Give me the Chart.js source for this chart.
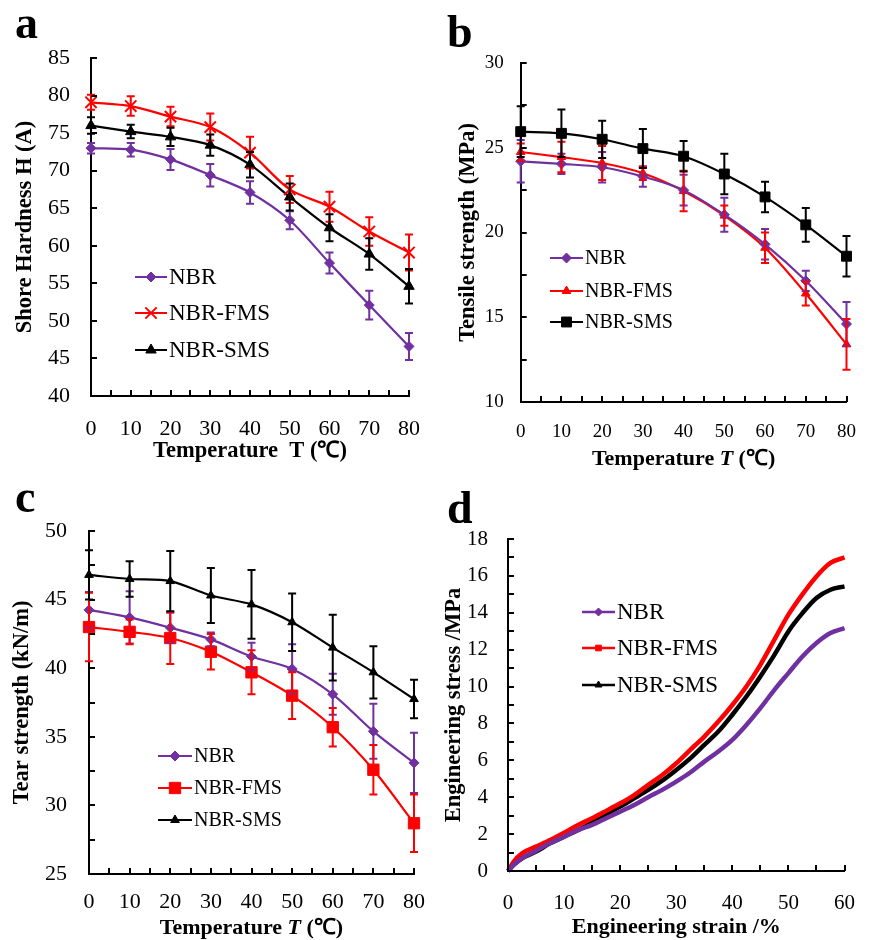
<!DOCTYPE html>
<html><head><meta charset="utf-8">
<script src="https://cdn.jsdelivr.net/npm/chart.js@4/dist/chart.umd.min.js"></script>
<style>
html,body{margin:0;padding:0;background:#fff;}
body{width:875px;height:940px;position:relative;overflow:hidden;}
canvas{position:absolute;}
</style></head>
<body>
<canvas id="ca" width="440" height="470" style="left:0;top:0"></canvas>
<canvas id="cb" width="435" height="470" style="left:440px;top:0"></canvas>
<canvas id="cc" width="440" height="480" style="left:0;top:460px"></canvas>
<canvas id="cd" width="435" height="480" style="left:440px;top:460px"></canvas>
<script>
// ---------- DATA ----------
const seriesNames = ['NBR', 'NBR-FMS', 'NBR-SMS'];
const temps = [0, 10, 20, 30, 40, 50, 60, 70, 80];

// (a) Shore hardness
const hardNBR    = [73.0, 72.8, 71.5, 69.4, 67.1, 63.4, 57.7, 52.1, 46.6];
const hardNBRErr = [0.7, 0.9, 1.4, 1.5, 1.5, 1.2, 1.4, 1.9, 1.8];
const hardFMS    = [79.1, 78.6, 77.2, 75.8, 72.4, 67.5, 65.2, 61.9, 59.1];
const hardFMSErr = [1.0, 1.3, 1.3, 1.8, 2.1, 1.8, 2.0, 1.9, 2.4];
const hardSMS    = [76.0, 75.2, 74.5, 73.4, 70.8, 66.5, 62.4, 58.9, 54.6];
const hardSMSErr = [1.1, 0.9, 1.2, 1.4, 1.7, 1.8, 1.8, 2.1, 2.3];

// (b) Tensile strength
const tenNBR    = [24.2, 24.05, 23.85, 23.3, 22.5, 21.05, 19.3, 17.15, 14.6];
const tenNBRErr = [1.25, 0.6, 0.9, 0.6, 0.9, 1.0, 0.9, 0.6, 1.3];
const tenFMS    = [24.75, 24.45, 24.1, 23.5, 22.45, 21.0, 19.1, 16.4, 13.4];
const tenFMSErr = [0.5, 0.9, 1.0, 0.4, 1.2, 0.6, 0.9, 0.7, 1.5];
const tenSMS    = [25.95, 25.85, 25.5, 24.95, 24.5, 23.45, 22.1, 20.45, 18.6];
const tenSMSErr = [1.5, 1.4, 1.1, 1.15, 0.9, 1.2, 0.9, 1.0, 1.2];

// (c) Tear strength
const tearNBR    = [44.25, 43.7, 42.95, 42.1, 40.85, 39.95, 38.1, 35.4, 33.1];
const tearNBRErr = [1.3, 1.9, 1.1, 0.5, 1.0, 1.8, 1.5, 2.0, 2.2];
const tearFMS    = [43.0, 42.65, 42.2, 41.2, 39.7, 38.0, 35.7, 32.6, 28.7];
const tearFMSErr = [2.5, 0.9, 1.9, 1.3, 1.6, 1.7, 1.4, 1.8, 2.1];
const tearSMS    = [46.8, 46.5, 46.35, 45.3, 44.65, 43.35, 41.5, 39.7, 37.75];
const tearSMSErr = [1.8, 1.3, 2.2, 2.0, 2.5, 2.1, 2.4, 1.9, 1.4];

// (d) Stress-strain
const strain    = [0, 1, 2.5, 5, 7.5, 10, 12.5, 15, 17.5, 20, 22.5, 25, 27.5, 30, 32.5, 35, 37.5, 40, 42.5, 45, 47.5, 50, 52.5, 55, 57.5, 60];
const stressNBR = [0, 0.33, 0.69, 1.1, 1.5, 1.86, 2.22, 2.5, 2.86, 3.22, 3.58, 4.0, 4.4, 4.85, 5.34, 5.93, 6.48, 7.11, 7.92, 8.83, 9.82, 10.73, 11.63, 12.36, 12.9, 13.17];
const stressFMS = [0, 0.5, 0.96, 1.32, 1.68, 2.08, 2.5, 2.86, 3.26, 3.67, 4.12, 4.67, 5.2, 5.84, 6.57, 7.29, 8.1, 9.0, 10.0, 11.18, 12.54, 13.9, 15.0, 15.97, 16.7, 17.0];
const stressSMS = [0, 0.33, 0.69, 1.05, 1.5, 1.86, 2.22, 2.62, 3.08, 3.49, 3.94, 4.4, 4.9, 5.48, 6.11, 6.84, 7.56, 8.47, 9.46, 10.55, 11.72, 12.99, 13.98, 14.8, 15.25, 15.43];

// ---------- STYLE ----------
const SERIF = "'Liberation Serif','Times New Roman',serif";
const PURPLE = '#7030A0', RED = '#FF0000', BLACK = '#000000';

const decor = {
  ca: { letter: {t: 'a', x: 15, y: 38}, xTitle: {parts: [['Temperature  T (\u2103)', false]], y: 451, size: 22.5},
        xMinor: 5, yMinor: 5,
        legend: {x: 135, len: 32, ys: [277, 313, 350], size: 23} },
  cb: { letter: {t: 'b', x: 7, y: 47}, xTitle: {parts: [['Temperature ', false], ['T', true], [' (\u2103)', false]], y: 459, size: 22},
        xMinor: 5, yMinor: 2.5,
        legend: {x: 110, len: 33, ys: [258, 291, 322], size: 20} },
  cc: { letter: {t: 'c', x: 15, y: 52}, xTitle: {parts: [['Temperature ', false], ['T', true], [' (\u2103)', false]], y: 468, size: 22},
        xMinor: 5, yMinor: 2.5,
        legend: {x: 158, len: 34, ys: [296, 328, 360], size: 20} },
  cd: { letter: {t: 'd', x: 7, y: 63}, xTitle: {parts: [['Engineering strain /%', false]], y: 467, size: 22},
        xMinor: 5, yMinor: 1,
        legend: {x: 142, len: 33, ys: [152, 188, 225], size: 23} }
};

const decorPlugin = {
  id: 'decor',
  afterDatasetsDraw(chart) {
    const ctx = chart.ctx, xs = chart.scales.x, ys = chart.scales.y;
    chart.data.datasets.forEach((ds) => {
      if (!ds.errors) return;
      ctx.save();
      ctx.strokeStyle = ds.borderColor; ctx.lineWidth = 2;
      ds.data.forEach((p, i) => {
        const e = ds.errors[i];
        const px = xs.getPixelForValue(p.x);
        const y1 = ys.getPixelForValue(p.y + e), y2 = ys.getPixelForValue(p.y - e);
        ctx.beginPath();
        ctx.moveTo(px, y1); ctx.lineTo(px, y2);
        ctx.moveTo(px - 4, y1); ctx.lineTo(px + 4, y1);
        ctx.moveTo(px - 4, y2); ctx.lineTo(px + 4, y2);
        ctx.stroke();
      });
      ctx.restore();
    });
  },
  afterDraw(chart) {
    const d = decor[chart.canvas.id]; if (!d) return;
    const ctx = chart.ctx, xs = chart.scales.x, ys = chart.scales.y, ca = chart.chartArea;
    ctx.save();
    // inward ticks
    ctx.strokeStyle = '#000'; ctx.lineWidth = 2;
    ctx.beginPath();
    for (let v = xs.min; v <= xs.max + 1e-9; v += d.xMinor) {
      const px = Math.round(xs.getPixelForValue(v));
      ctx.moveTo(px, ca.bottom); ctx.lineTo(px, ca.bottom - 6);
    }
    for (let v = ys.min; v <= ys.max + 1e-9; v += d.yMinor) {
      const py = Math.round(ys.getPixelForValue(v));
      ctx.moveTo(ca.left, py); ctx.lineTo(ca.left + 6, py);
    }
    ctx.stroke();
    // x title (mixed italic)
    const xt = d.xTitle;
    const fontOf = it => (it ? 'italic ' : '') + 'bold ' + xt.size + 'px ' + SERIF;
    let total = 0;
    xt.parts.forEach(p => { ctx.font = fontOf(p[1]); total += ctx.measureText(p[0]).width; });
    let cx = (ca.left + ca.right) / 2 - total / 2;
    ctx.fillStyle = '#000'; ctx.textBaseline = 'middle'; ctx.textAlign = 'left';
    xt.parts.forEach(p => { ctx.font = fontOf(p[1]); ctx.fillText(p[0], cx, xt.y); cx += ctx.measureText(p[0]).width; });
    // panel letter
    ctx.font = 'bold 46px ' + SERIF; ctx.textBaseline = 'alphabetic';
    ctx.fillText(d.letter.t, d.letter.x, d.letter.y);
    // legend
    const lg = d.legend;
    chart.data.datasets.forEach((ds, i) => {
      const y = lg.ys[i];
      ctx.strokeStyle = ds.borderColor; ctx.fillStyle = ds.borderColor;
      ctx.lineWidth = ds.legendLineWidth || 2;
      ctx.beginPath(); ctx.moveTo(lg.x, y); ctx.lineTo(lg.x + lg.len, y); ctx.stroke();
      ctx.lineWidth = ds.legendStyle === 'crossRot' ? 2 : 1;
      Chart.helpers.drawPoint(ctx, {pointStyle: ds.legendStyle, radius: ds.legendRadius, rotation: 0, borderWidth: ctx.lineWidth}, lg.x + lg.len / 2, y);
      ctx.fillStyle = '#000';
      ctx.font = lg.size + 'px ' + SERIF; ctx.textBaseline = 'middle';
      ctx.fillText(ds.label, lg.x + lg.len + 2, y + 1);
    });
    ctx.restore();
  }
};
Chart.register(decorPlugin);

function tempDS(label, vals, errs, color, style, radius) {
  return {
    label, data: temps.map((t, i) => ({x: t, y: vals[i]})), errors: errs,
    borderColor: color, backgroundColor: color, pointBackgroundColor: color, pointBorderColor: color,
    pointStyle: style, pointRadius: radius, pointHoverRadius: radius,
    pointBorderWidth: style === 'crossRot' ? 2 : 1, borderWidth: 2.2, tension: 0.3, clip: false,
    legendStyle: style, legendRadius: radius
  };
}
function curveDS(label, vals, color, style, lr) {
  return {
    label, data: strain.map((s, i) => ({x: s, y: vals[i]})),
    borderColor: color, backgroundColor: color, pointRadius: 0, borderWidth: 4.5,
    cubicInterpolationMode: 'monotone', clip: false,
    legendStyle: style, legendRadius: lr, legendLineWidth: 2.5
  };
}

function makeChart(id, datasets, p) {
  return new Chart(document.getElementById(id), {
    type: 'line',
    data: {datasets},
    options: {
      responsive: false, animation: false, events: [],
      layout: {padding: {left: 0, top: p.top, right: p.right, bottom: 0}},
      plugins: {legend: {display: false}, tooltip: {enabled: false}},
      scales: {
        x: {
          type: 'linear', min: p.xmin, max: p.xmax,
          afterFit: s => { s.height = p.xh; },
          ticks: {stepSize: p.xstep, color: '#000', font: {family: SERIF, size: p.tf}, padding: p.xpad, maxRotation: 0, autoSkip: false},
          grid: {display: true, drawOnChartArea: false, drawTicks: false},
          border: {display: true, color: '#000', width: 2}
        },
        y: {
          type: 'linear', min: p.ymin, max: p.ymax,
          afterFit: s => { s.width = p.yw; },
          ticks: {stepSize: p.ystep, color: '#000', font: {family: SERIF, size: p.tf}, padding: p.ypad, autoSkip: false},
          grid: {display: true, drawOnChartArea: false, drawTicks: false},
          border: {display: true, color: '#000', width: 2},
          title: {display: true, text: p.ytitle, color: '#000', font: {family: SERIF, size: 22.5, weight: 'bold'}, padding: {top: p.ytp, bottom: 0}}
        }
      }
    }
  });
}

makeChart('ca', [
  tempDS(seriesNames[0], hardNBR, hardNBRErr, PURPLE, 'rectRot', 5),
  tempDS(seriesNames[1], hardFMS, hardFMSErr, RED, 'crossRot', 8),
  tempDS(seriesNames[2], hardSMS, hardSMSErr, BLACK, 'triangle', 6)
], {top: 58, right: 15, xh: 74, yw: 91, xmin: 0, xmax: 80, xstep: 10, ymin: 40, ymax: 85, ystep: 5,
    tf: 22, xpad: 20, ypad: 21, ytitle: 'Shore Hardness H (A)', ytp: 12});

makeChart('cb', [
  tempDS(seriesNames[0], tenNBR, tenNBRErr, PURPLE, 'rectRot', 5),
  tempDS(seriesNames[1], tenFMS, tenFMSErr, RED, 'triangle', 5),
  tempDS(seriesNames[2], tenSMS, tenSMSErr, BLACK, 'rect', 7)
], {top: 63, right: 12.3, xh: 68, yw: 80.7, xmin: 0, xmax: 80, xstep: 10, ymin: 10, ymax: 30, ystep: 5,
    tf: 19, xpad: 19, ypad: 17, ytitle: 'Tensile strength (MPa)', ytp: 15});

makeChart('cc', [
  tempDS(seriesNames[0], tearNBR, tearNBRErr, PURPLE, 'rectRot', 5),
  tempDS(seriesNames[1], tearFMS, tearFMSErr, RED, 'rect', 8),
  tempDS(seriesNames[2], tearSMS, tearSMSErr, BLACK, 'triangle', 5)
], {top: 71, right: 17, xh: 66, yw: 89, xmin: 0, xmax: 80, xstep: 10, ymin: 25, ymax: 50, ystep: 5,
    tf: 22, xpad: 15, ypad: 22, ytitle: 'Tear strength (kN/m)', ytp: 9});

makeChart('cd', [
  curveDS(seriesNames[0], stressNBR, PURPLE, 'rectRot', 4),
  curveDS(seriesNames[1], stressFMS, RED, 'rect', 4),
  curveDS(seriesNames[2], stressSMS, BLACK, 'triangle', 4)
], {top: 79, right: 17.3, xh: 69, yw: 68, xmin: 0, xmax: 60, xstep: 10, ymin: 0, ymax: 18, ystep: 2,
    tf: 21, xpad: 20, ypad: 20, ytitle: 'Engineering stress /MPa', ytp: 1});
</script>
</body></html>
